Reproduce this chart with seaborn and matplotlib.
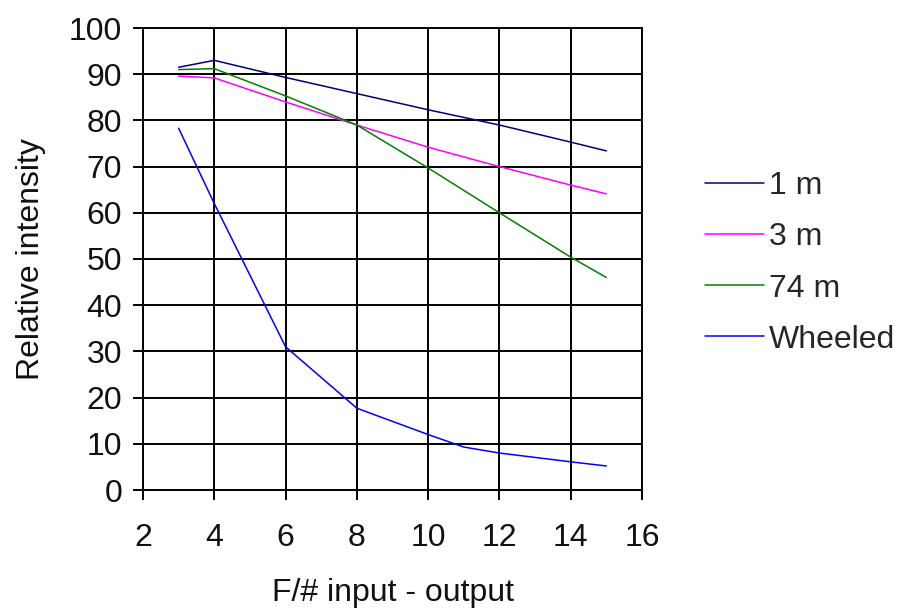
import matplotlib
matplotlib.use("Agg")
import matplotlib.pyplot as plt
import numpy as np
import pandas as pd
import seaborn as sns

# values
x_main = [3, 4, 6, 8, 10, 12, 14, 15]
one_m = [91.5, 93.0, 89.3, 85.8, 82.3, 79.0, 75.3, 73.4]
three_m = [89.6, 89.2, 84.0, 79.0, 74.2, 70.0, 66.0, 64.1]
seventyfour_m = [91.0, 91.2, 85.3, 79.0, 69.7, 60.0, 50.4, 46.0]
x_wheeled = [3, 4, 6, 8, 10, 11, 12, 14, 15]
wheeled = [78.3, 62.0, 31.0, 17.7, 12.0, 9.3, 8.0, 6.1, 5.2]

series_names = ["1 m", "3 m", "74 m", "Wheeled"]
series_colors = ["#000080", "#FF00FF", "#008000", "#0000FF"]
x_ticks = [2, 4, 6, 8, 10, 12, 14, 16]
y_ticks = [0, 10, 20, 30, 40, 50, 60, 70, 80, 90, 100]


def build_frame():
    parts = []
    for name, xs, ys in [("1 m", x_main, one_m), ("3 m", x_main, three_m),
                         ("74 m", x_main, seventyfour_m), ("Wheeled", x_wheeled, wheeled)]:
        parts.append(pd.DataFrame({"x": xs, "y": ys, "series": name}))
    return pd.concat(parts, ignore_index=True)


sns.set_style("white")
plt.rcParams["font.family"] = ["Liberation Sans", "DejaVu Sans"]
FS = 23

fig = plt.figure(figsize=(9.04, 6.11), dpi=100)
ax = fig.add_axes([143 / 904, 1 - 490 / 611, (642 - 143) / 904, (490 - 28) / 611])

df = build_frame()
sns.lineplot(data=df, x="x", y="y", hue="series", hue_order=series_names,
             palette=series_colors, estimator=None, sort=False, linewidth=1.1, ax=ax)

ax.set_xlim(2, 16)
ax.set_ylim(0, 100)
ax.set_xticks(x_ticks)
ax.set_yticks(y_ticks)
ax.grid(True, color="black", linewidth=1.4)
ax.set_axisbelow(True)
for s in ax.spines.values():
    s.set_color("black")
    s.set_linewidth(1.4)
ax.tick_params(axis="both", which="major", direction="out", length=7, width=1.4,
               color="black", labelsize=FS, labelcolor="#111111",
               bottom=True, left=True)
ax.tick_params(axis="x", pad=17)
ax.tick_params(axis="y", pad=8)

ax.set_xlabel("F/# input - output", fontsize=FS, color="#111111")
ax.set_ylabel("Relative intensity", fontsize=FS, color="#111111")
ax.xaxis.set_label_coords(0.5, (490 - 578) / 462)
ax.yaxis.set_label_coords((46 - 143) / 499, 0.5)

handles, labels = ax.get_legend_handles_labels()
ax.legend(handles, labels, loc="center left", bbox_to_anchor=(705 / 904, 1 - 263 / 611),
          bbox_transform=fig.transFigure, frameon=False, fontsize=FS,
          handlelength=1.85, handletextpad=0.15, labelspacing=0.66,
          borderpad=0, borderaxespad=0)

fig.savefig("out.png", dpi=100)
